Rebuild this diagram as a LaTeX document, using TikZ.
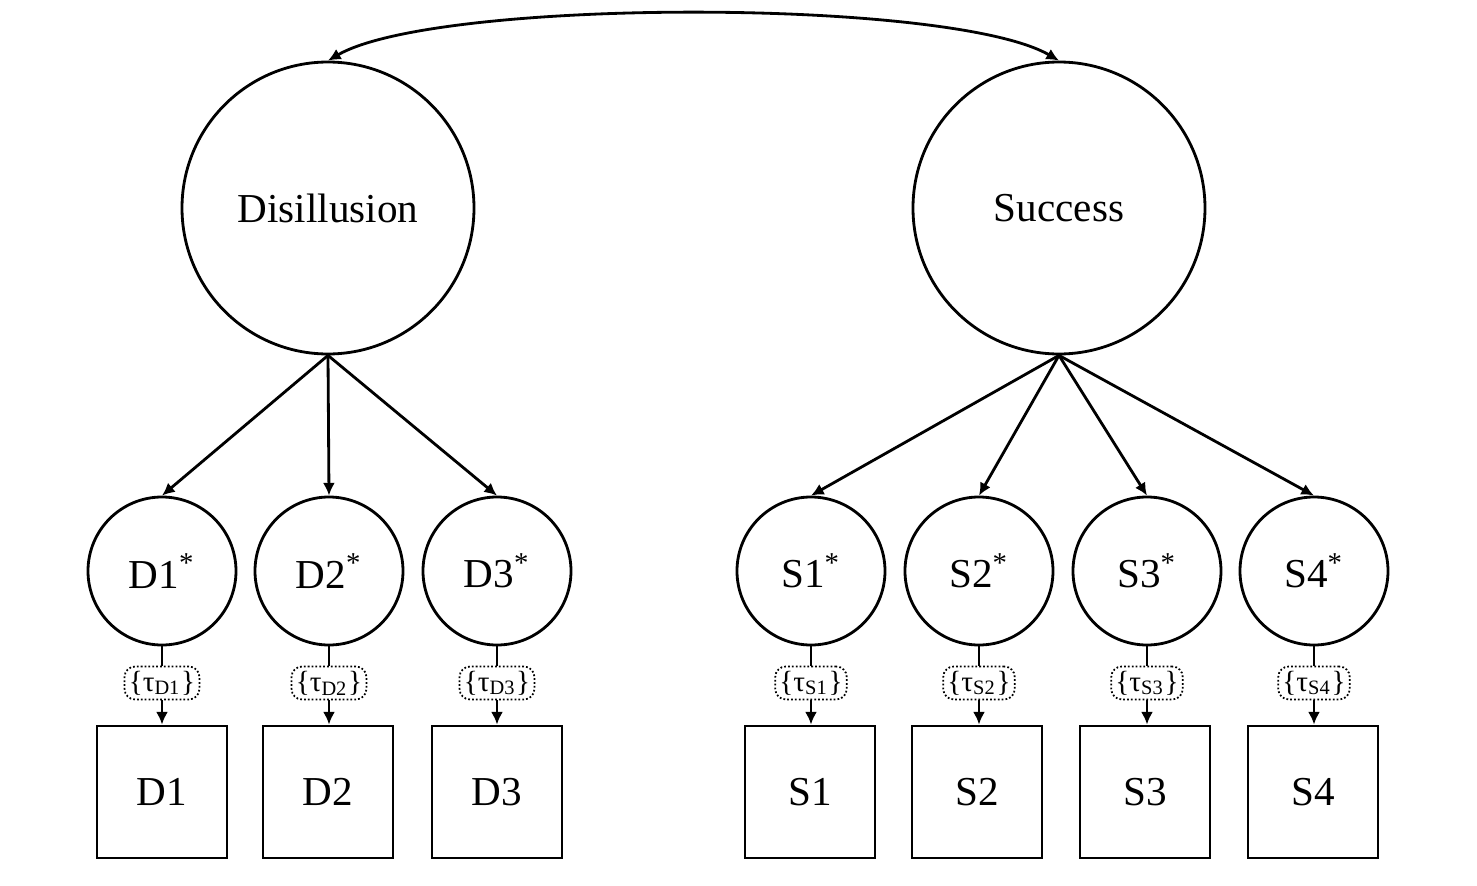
\documentclass[tikz,border=0pt]{standalone}
\usepackage{fontspec}
\setmainfont{Liberation Serif}
\usetikzlibrary{arrows.meta}

\tikzset{
	latent/.style={draw, circle, line width=0.8pt, inner sep=0pt, minimum size=2.92cm, font=\fontsize{11.7}{14}\selectfont},
	star/.style={draw, circle, line width=0.8pt, inner sep=0pt, minimum size=1.48cm, font=\fontsize{11.7}{14}\selectfont},
	item/.style={draw, rectangle, line width=0.8pt, inner sep=0pt, minimum width=1.30cm, minimum height=1.32cm, font=\fontsize{11.7}{14}\selectfont},
	thresh/.style={draw, line width=0.5pt, dash pattern=on 0.5pt off 0.6pt, rounded corners=3pt, inner sep=1.2pt, minimum height=0.33cm, font=\fontsize{8.3}{10}\selectfont},
	>={Latex[length=3.6pt,width=3.4pt]}
}

\begin{document}
\begin{tikzpicture}[line width=0.8pt]
		\useasboundingbox (0,0) rectangle (14.77,-8.86);
		
		% latent factors
		\node[latent] (Dis) at (3.28,-2.08) {Disillusion};
		\node[latent] (Suc) at (10.59,-2.08) {Success};
		
		\draw[<->] (Dis.north) to [out=30, in=150, looseness=0.44] (Suc.north);
		
		% latent responses
		\node[star] (D1s) at (1.62,-5.71) {D1\textsuperscript{*}};
		\node[star] (D2s) at (3.29,-5.71) {D2\textsuperscript{*}};
		\node[star] (D3s) at (4.97,-5.71) {D3\textsuperscript{*}};
		\node[star] (S1s) at (8.11,-5.71) {S1\textsuperscript{*}};
		\node[star] (S2s) at (9.79,-5.71) {S2\textsuperscript{*}};
		\node[star] (S3s) at (11.47,-5.71) {S3\textsuperscript{*}};
		\node[star] (S4s) at (13.14,-5.71) {S4\textsuperscript{*}};
		
		\draw[->] (Dis.south) -- (D1s.north);
		\draw[->] (Dis.south) -- (D2s.north);
		\draw[->] (Dis.south) -- (D3s.north);
		\draw[->] (Suc.south) -- (S1s.north);
		\draw[->] (Suc.south) -- (S2s.north);
		\draw[->] (Suc.south) -- (S3s.north);
		\draw[->] (Suc.south) -- (S4s.north);
		
		% thresholds
		\node[thresh] (tD1) at (1.62,-6.83) {\{τ\textsubscript{D1}\}};
		\node[thresh] (tD2) at (3.29,-6.83) {\{τ\textsubscript{D2}\}};
		\node[thresh] (tD3) at (4.97,-6.83) {\{τ\textsubscript{D3}\}};
		\node[thresh] (tS1) at (8.11,-6.83) {\{τ\textsubscript{S1}\}};
		\node[thresh] (tS2) at (9.79,-6.83) {\{τ\textsubscript{S2}\}};
		\node[thresh] (tS3) at (11.47,-6.83) {\{τ\textsubscript{S3}\}};
		\node[thresh] (tS4) at (13.14,-6.83) {\{τ\textsubscript{S4}\}};
		
		% observed items
		\node[item] (D1) at (1.62,-7.92) {D1};
		\node[item] (D2) at (3.28,-7.92) {D2};
		\node[item] (D3) at (4.97,-7.92) {D3};
		\node[item] (S1) at (8.10,-7.92) {S1};
		\node[item] (S2) at (9.77,-7.92) {S2};
		\node[item] (S3) at (11.45,-7.92) {S3};
		\node[item] (S4) at (13.13,-7.92) {S4};
		
		\draw (D1s) -- (tD1);
		\draw (D2s) -- (tD2);
		\draw (D3s) -- (tD3);
		\draw (S1s) -- (tS1);
		\draw (S2s) -- (tS2);
		\draw (S3s) -- (tS3);
		\draw (S4s) -- (tS4);
		\draw[->] (tD1) -- (D1.north -| tD1);
		\draw[->] (tD2) -- (D2.north -| tD2);
		\draw[->] (tD3) -- (D3.north -| tD3);
		\draw[->] (tS1) -- (S1.north -| tS1);
		\draw[->] (tS2) -- (S2.north -| tS2);
		\draw[->] (tS3) -- (S3.north -| tS3);
		\draw[->] (tS4) -- (S4.north -| tS4);
	\end{tikzpicture}
\end{document}
